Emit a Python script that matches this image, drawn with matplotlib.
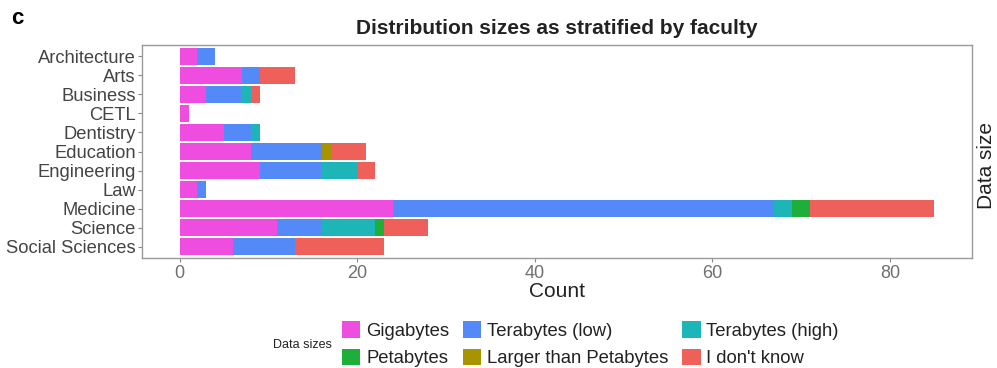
import matplotlib
matplotlib.use("Agg")
import matplotlib.pyplot as plt
from matplotlib.patches import Patch
import numpy as np

plt.rcParams['font.family'] = ['Liberation Sans', 'DejaVu Sans']

faculties = ["Architecture", "Arts", "Business", "CETL", "Dentistry", "Education",
             "Engineering", "Law", "Medicine", "Science", "Social Sciences"]

size_labels = ["Gigabytes", "Terabytes (low)", "Terabytes (high)",
               "Petabytes", "Larger than Petabytes", "I don't know"]

gigabytes       = [2, 7, 3, 1, 5, 8, 9, 2, 24, 11, 6]
terabytes_low   = [2, 2, 4, 0, 3, 8, 7, 1, 43, 5, 7]
terabytes_high  = [0, 0, 1, 0, 1, 0, 4, 0, 2, 6, 0]
petabytes       = [0, 0, 0, 0, 0, 0, 0, 0, 2, 1, 0]
larger_than_pb  = [0, 0, 0, 0, 0, 1, 0, 0, 0, 0, 0]
dont_know       = [0, 4, 1, 0, 0, 4, 2, 0, 14, 5, 10]

series = [gigabytes, terabytes_low, terabytes_high, petabytes, larger_than_pb, dont_know]
colors = ["#EE4DE0", "#548AF7", "#1DB5B8", "#1DAF3A", "#A89400", "#F0605A"]

fig = plt.figure(figsize=(9.97, 3.68), dpi=100)
ax = fig.add_axes([142 / 997, 1 - 258 / 368, (972 - 142) / 997, (258 - 45) / 368])

y = np.arange(len(faculties))
left = np.zeros(len(faculties))
for vals, col, lab in zip(series, colors, size_labels):
    vals = np.array(vals, dtype=float)
    ax.barh(y, vals, left=left, height=0.9, color=col, label=lab, linewidth=0)
    left += vals

total_max = left.max()
ax.set_xlim(-0.05 * total_max, total_max * 1.05)
ax.set_ylim(len(faculties) - 1 + 0.6, -0.6)
ax.set_yticks(y)
ax.set_yticklabels(faculties, fontsize=13.2, color="#444444")
ax.set_xticks([0, 20, 40, 60, 80])
ax.tick_params(axis='x', labelsize=13, labelcolor="#707070", color="#888888",
               length=3, pad=2)
ax.tick_params(axis='y', color="#888888", length=3, pad=1.5)
for s in ax.spines.values():
    s.set_color("#9a9a9a")
    s.set_linewidth(1.0)
ax.set_xlabel("Count", fontsize=15, color="#222222", labelpad=0)
ax.set_title("Distribution sizes as stratified by faculty", fontsize=15,
             fontweight='bold', color="#222222", pad=8)

fig.text(11 / 997, 1 - 18 / 368, "c", fontsize=16, fontweight='bold', va='center')
fig.text(977 / 997, 1 - 209 / 368, "Data size", rotation=90, fontsize=15,
         ha='left', va='bottom', color="#222222")

order = [0, 3, 1, 4, 2, 5]
handles = [Patch(facecolor=colors[i], edgecolor='none', label=size_labels[i]) for i in order]
fig.legend(handles=handles, ncol=3, loc='upper left',
           bbox_to_anchor=(342 / 997, 1 - 321 / 368), frameon=False, fontsize=13.3,
           handlelength=1.0, handleheight=1.0, handletextpad=0.3,
           columnspacing=0.75, labelspacing=0.5, borderpad=0, borderaxespad=0,
           labelcolor="#222222")
fig.text(302 / 997, 1 - 345 / 368, "Data sizes", fontsize=9, ha='center', va='center',
         color="#222222")

fig.savefig("out.png", dpi=100)
